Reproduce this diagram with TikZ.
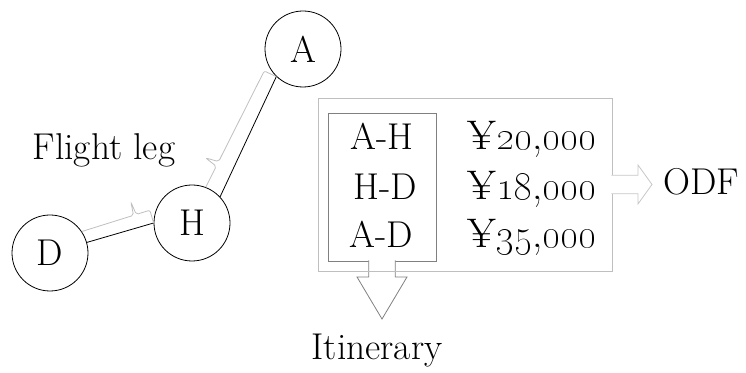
\documentclass[tikz,border=0pt]{standalone}
\usetikzlibrary{calc}
\newcommand{\price}[2]{¥\oldstylenums{#1},\oldstylenums{#2}}
\begin{document}
\begin{tikzpicture}[x=0.75pt,y=0.75pt,font=\fontsize{28}{33}\selectfont,
		airport/.style={circle,draw,line width=0.6pt,minimum size=57pt,inner sep=0pt},
		legline/.style={draw=black!25,line width=0.6pt,rounded corners=1.5pt},
		textnode/.style={inner sep=0pt,anchor=base},
		pricenode/.style={textnode,font=\fontsize{31}{36}\selectfont},
		legbox/.style={draw=black!50,line width=0.6pt,outer sep=0pt,minimum width=81pt,minimum height=111pt},
		farebox/.style={draw=black!25,line width=0.6pt,outer sep=0pt,minimum width=220.5pt,minimum height=129.75pt},
		blockarrow/.style={line width=0.6pt,fill=white}]
		\useasboundingbox (0,0) rectangle (746,373);
		\node [airport] (A) at (303, 324) {A};
		\node [airport] (H) at (192, 150) {H};
		\node [airport] (D) at (50, 120) {D};
		\node [textnode] (leg) at (104, 213) {Flight leg};
		% legs, A-H and D-H
		\draw [line width=0.6pt] (A.226) -- (H.43);
		\draw [line width=0.6pt] (D.16) -- (H.180);
		\coordinate (ah1) at ($(A.226)!10pt!-90:(H.43)$);
		\coordinate (ahn) at ($(H.69)!0.2!(ah1)$);
		\coordinate (aht) at ($(ahn)!10pt!90:(ah1)$);
		\draw [legline] (A.226) -- (ah1) -- ($(H.69)!0.22!(ah1)$) -- (aht) -- ($(H.69)!0.18!(ah1)$) -- (H.69);
		\coordinate (dh1) at ($(H.180)!10pt!-90:(D.16)$);
		\coordinate (dhn) at ($(D.34)!0.78!(dh1)$);
		\coordinate (dht) at ($(dhn)!10pt!90:(dh1)$);
		\draw [legline] (D.34) -- ($(D.34)!0.76!(dh1)$) -- (dht) -- ($(D.34)!0.8!(dh1)$) -- (dh1) -- (H.180);
		% fare table
		\node [legbox] (legs) at (382, 186) {};
		\node [textnode] (ah) at (382, 223) {A-H};
		\node [textnode] (hd) at (385, 173) {H-D};
		\node [textnode] (ad) at (381, 125) {A-D};
		\node [pricenode] (p1) at (532, 223) {\price{20}{000}};
		\node [pricenode] (p2) at (532, 173) {\price{18}{000}};
		\node [pricenode] (p3) at (532, 125) {\price{35}{000}};
		\node [textnode] (itin) at (377, 13) {Itinerary};
		\node [textnode,anchor=base west] (odf) at (663, 178) {ODF};
		\draw [blockarrow,draw=black!50] ([xshift=-10pt,yshift=0.5pt]legs.south) -- ++(0,-12.5pt) -- ++(-8.75pt,0) -- ++(18.75pt,-31.5pt)
			-- ++(18.75pt,31.5pt) -- ++(-8.75pt,0) -- ++(0,12.5pt);
		\node [farebox] (fare) at (465, 188.5) {};
		\draw [blockarrow,draw=black!22] ([xshift=-0.5pt,yshift=7pt]fare.east) -- ++(20pt,0) -- ++(0,7.6pt) -- ++(10.5pt,-14.6pt)
			-- ++(-10.5pt,-14.6pt) -- ++(0,7.6pt) -- ++(-20pt,0);
	\end{tikzpicture}
\end{document}
